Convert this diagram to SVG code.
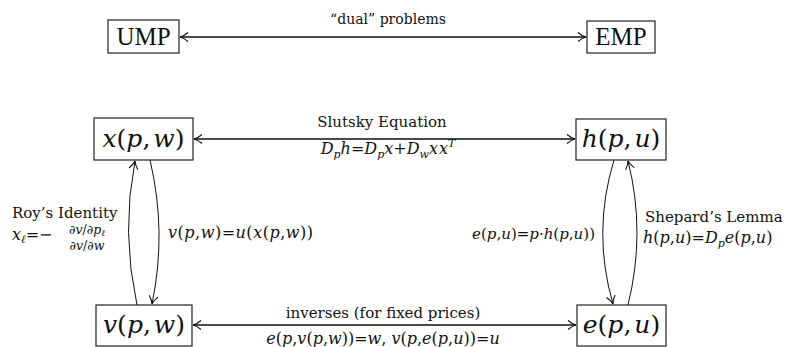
<svg xmlns="http://www.w3.org/2000/svg" width="786" height="347" viewBox="0 0 786 347">
<style>
  text { font-family: "DejaVu Serif", "Liberation Serif", serif; fill: #111; }
  .i { font-style: italic; }
  .box { fill: #fff; stroke: #222; stroke-width: 1.2; }
  .node { font-size: 25px; }
  .cap { font-family: "Liberation Serif", serif; font-size: 25px; }
  .lbl { font-size: 15px; }
  .m { font-size: 16px; }
  .sub { font-size: 11px; }
  .fr { font-size: 12.5px; }
  .conn { fill: none; stroke: #111; }
</style>
<defs>
  <marker id="ah" markerUnits="userSpaceOnUse" markerWidth="12" markerHeight="12" refX="9" refY="6" orient="auto-start-reverse">
    <path d="M1,1.5 Q5,5 9,6 Q5,7 1,10.5" fill="none" stroke="#111" stroke-width="1.1"/>
  </marker>
</defs>

<g id="connectors">
  <line class="conn" x1="180" y1="37" x2="586" y2="37" stroke="#555" stroke-width="1.5" marker-start="url(#ah)" marker-end="url(#ah)"/>
  <line class="conn" x1="194" y1="139" x2="575" y2="139" stroke-width="1.6" marker-start="url(#ah)" marker-end="url(#ah)"/>
  <line class="conn" x1="193" y1="325" x2="576" y2="325" stroke-width="1.6" marker-start="url(#ah)" marker-end="url(#ah)"/>
  <path class="conn" d="M137,305 Q121,232 135,161" stroke-width="1" marker-end="url(#ah)"/>
  <path class="conn" d="M150,160 Q167,232 152,304" stroke-width="1" marker-end="url(#ah)"/>
  <path class="conn" d="M614,160 Q592,232 613,304" stroke-width="1" marker-end="url(#ah)"/>
  <path class="conn" d="M628,305 Q646,232 628,161" stroke-width="1" marker-end="url(#ah)"/>
</g>

<g id="labels">
  <text x="388" y="24" text-anchor="middle" font-size="14px">“dual” problems</text>
  <text x="382" y="127" text-anchor="middle" class="lbl">Slutsky Equation</text>
  <text x="388" y="154" text-anchor="middle" class="m"><tspan class="i">D</tspan><tspan class="i sub" dy="4">p</tspan><tspan class="i" dy="-4">h</tspan>=<tspan class="i">D</tspan><tspan class="i sub" dy="4">p</tspan><tspan class="i" dy="-4">x</tspan>+<tspan class="i">D</tspan><tspan class="i sub" dy="4">w</tspan><tspan class="i" dy="-4">x</tspan><tspan class="i" dx="1">x</tspan><tspan class="i sub" dy="-7">T</tspan></text>
  <text x="383" y="318" text-anchor="middle" class="lbl">inverses (for fixed prices)</text>
  <text x="383" y="344" text-anchor="middle" class="m"><tspan class="i">e</tspan>(<tspan class="i">p</tspan>,<tspan class="i">v</tspan>(<tspan class="i">p</tspan>,<tspan class="i">w</tspan>))=<tspan class="i">w</tspan>, <tspan class="i">v</tspan>(<tspan class="i">p</tspan>,<tspan class="i">e</tspan>(<tspan class="i">p</tspan>,<tspan class="i">u</tspan>))=<tspan class="i">u</tspan></text>
  <text x="12" y="218" class="lbl">Roy’s Identity</text>
  <text x="12" y="240" class="m"><tspan class="i">x</tspan><tspan class="i sub" dy="3">ℓ</tspan><tspan dy="-3">=−</tspan></text>
  <text x="87" y="234" text-anchor="middle" class="fr"><tspan class="i">∂v</tspan>/<tspan class="i">∂p</tspan><tspan class="i" font-size="9px" dy="2">ℓ</tspan></text>
  <text x="87" y="250" text-anchor="middle" class="fr"><tspan class="i">∂v</tspan>/<tspan class="i">∂w</tspan></text>
  <text x="168" y="238" class="m" textLength="145"><tspan class="i">v</tspan>(<tspan class="i">p</tspan>,<tspan class="i">w</tspan>)=<tspan class="i">u</tspan>(<tspan class="i">x</tspan>(<tspan class="i">p</tspan>,<tspan class="i">w</tspan>))</text>
  <text x="595" y="239" text-anchor="end" font-size="15px"><tspan class="i">e</tspan>(<tspan class="i">p</tspan>,<tspan class="i">u</tspan>)=<tspan class="i">p</tspan>·<tspan class="i">h</tspan>(<tspan class="i">p</tspan>,<tspan class="i">u</tspan>))</text>
  <text x="645" y="222" class="lbl">Shepard’s Lemma</text>
  <text x="643" y="243" class="m"><tspan class="i">h</tspan>(<tspan class="i">p</tspan>,<tspan class="i">u</tspan>)=<tspan class="i">D</tspan><tspan class="i sub" dy="4">p</tspan><tspan class="i" dy="-4">e</tspan>(<tspan class="i">p</tspan>,<tspan class="i">u</tspan>)</text>
</g>

<g id="UMP">
  <rect class="box" x="108" y="20" width="71" height="33"/>
  <text x="143.5" y="45" text-anchor="middle" class="cap">UMP</text>
</g>
<g id="EMP">
  <rect class="box" x="587" y="21" width="68" height="32"/>
  <text x="621" y="45" text-anchor="middle" class="cap">EMP</text>
</g>
<g id="x">
  <rect class="box" x="94" y="118" width="99" height="42"/>
  <text x="143.5" y="147" text-anchor="middle" class="node"><tspan class="i">x</tspan>(<tspan class="i">p</tspan>,<tspan class="i" dx="3">w</tspan>)</text>
</g>
<g id="h">
  <rect class="box" x="576" y="119" width="90" height="41"/>
  <text x="621" y="147" text-anchor="middle" class="node"><tspan class="i">h</tspan>(<tspan class="i">p</tspan>,<tspan class="i" dx="3">u</tspan>)</text>
</g>
<g id="v">
  <rect class="box" x="96" y="305" width="96" height="41"/>
  <text x="144" y="333" text-anchor="middle" class="node"><tspan class="i">v</tspan>(<tspan class="i">p</tspan>,<tspan class="i" dx="3">w</tspan>)</text>
</g>
<g id="e">
  <rect class="box" x="577" y="305" width="89" height="41"/>
  <text x="621.5" y="333" text-anchor="middle" class="node"><tspan class="i">e</tspan>(<tspan class="i">p</tspan>,<tspan class="i" dx="3">u</tspan>)</text>
</g>
</svg>
